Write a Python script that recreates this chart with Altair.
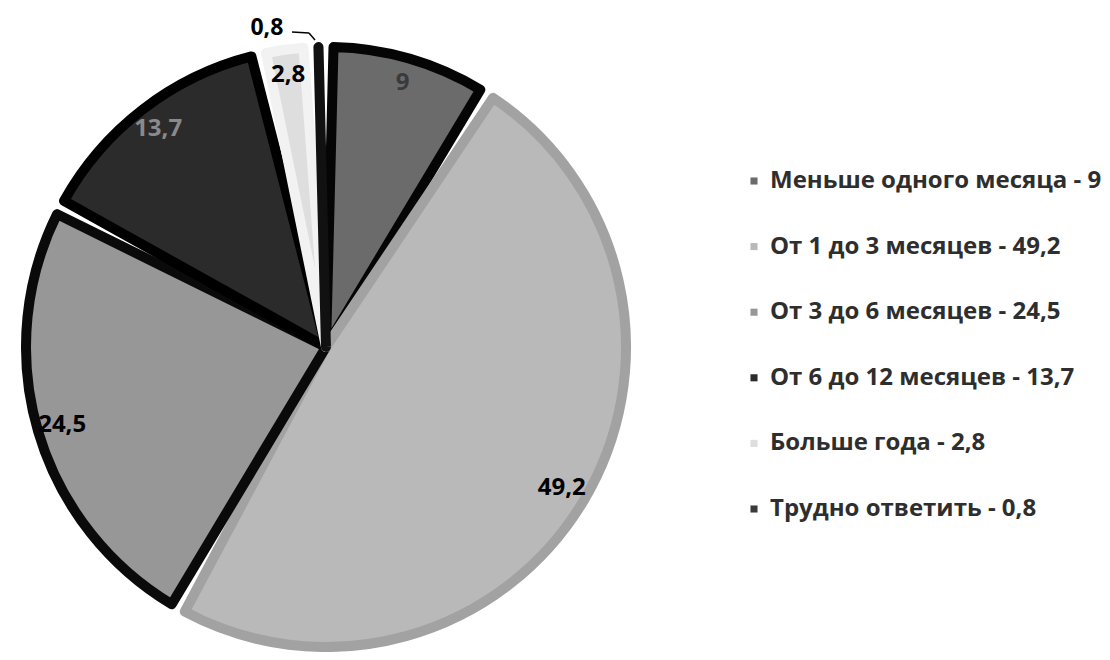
import altair as alt
import pandas as pd

categories = ["Меньше одного месяца", "От 1 до 3 месяцев", "От 3 до 6 месяцев",
              "От 6 до 12 месяцев", "Больше года", "Трудно ответить"]
values = [9, 49.2, 24.5, 13.7, 2.8, 0.8]
value_text = ["9", "49,2", "24,5", "13,7", "2,8", "0,8"]
fills = ["#6b6b6b", "#b9b9b9", "#979797", "#2b2b2b", "#dedede", "#3a3a3a"]
borders = ["#050505", "#a2a2a2", "#0a0a0a", "#000000", "#f2f2f2", "#111111"]
label_colors = ["#3a3a3a", "#000000", "#000000", "#8a8a8a", "#000000", "#000000"]

legend_labels = [f"{c} - {t}" for c, t in zip(categories, value_text)]

df = pd.DataFrame({
    "idx": list(range(len(categories))),
    "leg": legend_labels,
    "value": values,
    "txt": value_text,
})

CX, CY = 318, 339
FONT = "Open Sans"

base = alt.Chart(df).encode(
    theta=alt.Theta("value:Q", stack=True),
    order=alt.Order("idx:Q"),
)

pie = base.mark_arc(radius=300, padAngle=0.05, strokeWidth=10, strokeJoin="round").encode(
    x=alt.value(CX), y=alt.value(CY),
    color=alt.Color("leg:N", scale=alt.Scale(domain=legend_labels, range=fills),
                    legend=alt.Legend(title=None, orient="none", legendX=734, legendY=161,
                                      symbolType="square", symbolSize=50, symbolStrokeWidth=0,
                                      labelFont=FONT, labelFontWeight="bold", labelFontSize=24,
                                      labelColor="#2e2e2e", rowPadding=41.6, labelOffset=4,
                                      labelLimit=600)),
    stroke=alt.Stroke("leg:N", scale=alt.Scale(domain=legend_labels, range=borders), legend=None),
)

labels = base.mark_text(radius=275, font=FONT, fontWeight="bold", fontSize=24).encode(
    x=alt.value(CX), y=alt.value(CY),
    text="txt:N",
    fill=alt.Fill("txt:N", scale=alt.Scale(domain=value_text, range=label_colors), legend=None),
    opacity=alt.condition("datum.value < 1", alt.value(0), alt.value(1)),
)

label_small = base.mark_text(radius=322, dx=-51, dy=3, font=FONT, fontWeight="bold", fontSize=23,
                             color="#000").encode(
    x=alt.value(CX), y=alt.value(CY),
    text="txt:N",
    opacity=alt.condition("datum.value < 1", alt.value(1), alt.value(0)),
)

one = pd.DataFrame({"a": [0]})
lead1 = alt.Chart(one).mark_rule(color="#000", strokeWidth=1.5).encode(
    x=alt.value(284), x2=alt.value(301), y=alt.value(24), y2=alt.value(25))
lead2 = alt.Chart(one).mark_rule(color="#000", strokeWidth=1.5).encode(
    x=alt.value(301), x2=alt.value(307), y=alt.value(25), y2=alt.value(32))

chart = alt.layer(pie, labels, label_small, lead1, lead2).properties(
    width=1094, height=644, autosize="none", padding=0
).configure_view(stroke=None)

chart.save("out.html", embed_options={"renderer": "svg", "actions": False})
